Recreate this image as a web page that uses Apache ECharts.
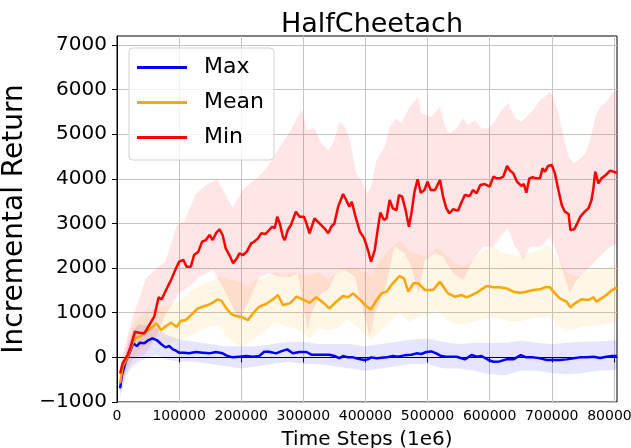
<!DOCTYPE html>
<html>
<head>
<meta charset="utf-8">
<script src="https://cdn.jsdelivr.net/npm/echarts@6/dist/echarts.min.js"></script>
<style>
  html, body { margin: 0; padding: 0; background: #fff; }
  #main { width: 631px; height: 448px; }
</style>
</head>
<body>
<div id="main"></div>
<script>
// curves: [time step, return]
const maxCurve = [[5000,-695],[8000,-396],[14000,-97],[20000,90],[26000,314],[32000,254],[37000,329],[44000,314],[51000,388],[57000,426],[64000,388],[71000,299],[78000,224],[84000,254],[90000,179],[95000,149],[100000,105],[108000,105],[116000,90],[127000,120],[138000,105],[149000,90],[159000,120],[170000,90],[178000,30],[186000,0],[197000,15],[208000,30],[219000,15],[229000,30],[237000,127],[245000,127],[256000,90],[264000,134],[274000,179],[283000,90],[294000,120],[305000,120],[313000,60],[323000,60],[334000,60],[342000,60],[350000,30],[358000,-15],[364000,30],[372000,0],[380000,0],[388000,-30],[398000,-60],[404000,-45],[409000,0],[418000,-22],[426000,-7],[434000,0],[444000,30],[452000,15],[463000,45],[474000,60],[482000,90],[490000,75],[498000,120],[506000,134],[514000,90],[522000,30],[530000,15],[536000,15],[547000,15],[560000,-45],[571000,52],[579000,15],[587000,30],[598000,-60],[606000,-97],[616000,-90],[627000,-45],[638000,-45],[650000,52],[659000,0],[670000,0],[681000,-22],[692000,-60],[702000,-60],[713000,-60],[724000,-45],[735000,-22],[745000,0],[756000,0],[767000,15],[778000,-15],[788000,15],[797000,30],[805000,30]];

const meanCurve = [[5000,-583],[9000,-209],[17000,15],[25000,314],[30000,426],[38000,478],[46000,575],[55000,650],[63000,762],[71000,613],[79000,702],[87000,777],[96000,687],[103000,822],[111000,837],[122000,986],[130000,1098],[138000,1135],[146000,1173],[154000,1225],[162000,1300],[168000,1270],[176000,1098],[184000,971],[192000,926],[202000,896],[211000,837],[219000,986],[229000,1135],[240000,1195],[251000,1300],[259000,1397],[267000,1173],[278000,1210],[289000,1360],[299000,1300],[310000,1225],[321000,1345],[332000,1225],[342000,1098],[353000,1247],[364000,1374],[372000,1345],[380000,1434],[391000,1300],[401000,1150],[409000,1076],[418000,1285],[426000,1434],[434000,1472],[444000,1658],[455000,1823],[462000,1770],[469000,1472],[477000,1658],[485000,1658],[496000,1509],[509000,1509],[520000,1696],[527000,1550],[533000,1434],[544000,1360],[555000,1397],[563000,1345],[571000,1397],[579000,1449],[587000,1524],[595000,1599],[606000,1569],[616000,1569],[627000,1546],[638000,1472],[649000,1449],[659000,1472],[670000,1509],[681000,1524],[689000,1569],[697000,1569],[705000,1434],[713000,1322],[724000,1247],[730000,1120],[737000,1210],[748000,1300],[759000,1285],[767000,1345],[772000,1247],[780000,1322],[788000,1397],[797000,1509],[805000,1560]];

const minCurve = [[5000,-360],[9000,-134],[17000,52],[22000,240],[29000,575],[36000,553],[44000,538],[52000,725],[60000,911],[67000,1345],[72000,1300],[79000,1509],[87000,1733],[95000,1994],[100000,2144],[107000,2181],[112000,2032],[119000,2032],[124000,2293],[131000,2368],[137000,2592],[143000,2629],[149000,2741],[154000,2629],[160000,2794],[165000,2868],[170000,2741],[175000,2443],[181000,2293],[187000,2107],[193000,2219],[197000,2331],[203000,2293],[209000,2368],[216000,2555],[221000,2592],[227000,2667],[232000,2779],[239000,2764],[245000,2853],[250000,2928],[254000,2891],[258000,3152],[262000,3003],[267000,2704],[270000,2629],[275000,2853],[280000,2966],[288000,3264],[294000,3152],[301000,3152],[305000,3003],[310000,2779],[318000,3115],[326000,3003],[334000,2891],[340000,2779],[345000,2928],[350000,3003],[356000,3376],[364000,3660],[369000,3526],[374000,3376],[378000,3488],[384000,3152],[391000,2816],[398000,2667],[404000,2405],[409000,2144],[415000,2405],[420000,2891],[424000,3242],[430000,3078],[434000,3115],[439000,3526],[444000,3339],[450000,3302],[454000,3638],[459000,3600],[464000,3339],[470000,2928],[474000,3227],[479000,3713],[484000,3989],[489000,3690],[495000,3750],[500000,3937],[505000,3750],[512000,3750],[520000,3974],[525000,3600],[530000,3350],[535000,3227],[541000,3317],[549000,3287],[555000,3488],[560000,3638],[568000,3615],[573000,3750],[579000,3675],[585000,3862],[592000,3884],[600000,3824],[606000,4049],[611000,4011],[616000,4011],[622000,4049],[628000,4288],[632000,4198],[638000,4123],[644000,3937],[651000,3840],[655000,3884],[659000,3690],[664000,4011],[669000,4034],[675000,4011],[681000,4011],[685000,4235],[689000,4161],[694000,4288],[700000,4310],[705000,4123],[710000,3787],[716000,3414],[721000,3264],[727000,3212],[730000,2853],[736000,2868],[741000,3003],[746000,3152],[753000,3264],[759000,3339],[764000,3526],[767000,3787],[770000,4161],[775000,3899],[780000,4011],[787000,4086],[794000,4183],[799000,4161],[805000,4130]];

// shaded spread around each curve: upper and lower edges
const maxUpper = [[5000,-500],[15000,150],[25000,600],[35000,750],[50000,700],[65000,650],[80000,500],[100000,400],[125000,350],[150000,300],[175000,250],[200000,250],[225000,250],[250000,300],[275000,350],[300000,350],[325000,300],[350000,300],[375000,300],[400000,250],[425000,300],[450000,350],[475000,400],[500000,420],[525000,350],[550000,300],[575000,330],[600000,320],[625000,330],[650000,380],[675000,330],[700000,300],[725000,330],[750000,350],[775000,360],[805000,380]];
const maxLower = [[5000,-900],[15000,-400],[25000,-200],[35000,-100],[50000,0],[65000,50],[80000,-50],[100000,-100],[125000,-100],[150000,-150],[175000,-200],[200000,-250],[225000,-200],[250000,-150],[275000,-100],[300000,-150],[325000,-150],[350000,-200],[375000,-250],[400000,-300],[425000,-250],[450000,-200],[475000,-150],[500000,-150],[525000,-250],[550000,-250],[575000,-300],[600000,-380],[625000,-400],[650000,-300],[675000,-300],[700000,-350],[725000,-380],[750000,-350],[775000,-300],[805000,-280]];

const meanUpper = [[5000,-300],[15000,200],[25000,700],[35000,900],[45000,1000],[60000,1100],[75000,1150],[90000,1200],[105000,1300],[120000,1500],[135000,1650],[150000,1700],[165000,1800],[180000,1750],[195000,1700],[210000,1600],[225000,1750],[240000,1800],[255000,1900],[270000,1850],[285000,1900],[300000,1850],[310000,1850],[325000,1900],[340000,1750],[355000,1900],[370000,2000],[385000,2000],[400000,1900],[410000,1850],[425000,2200],[440000,2450],[455000,2600],[470000,2400],[485000,2300],[500000,2250],[515000,2450],[530000,2300],[545000,2100],[560000,2050],[575000,2200],[590000,2400],[605000,2500],[620000,2350],[635000,2300],[650000,2250],[665000,2350],[680000,2400],[695000,2500],[710000,2200],[725000,1900],[740000,1800],[755000,1900],[770000,2000],[785000,2000],[805000,2100]];
const meanLower = [[5000,-800],[15000,-300],[25000,0],[35000,150],[45000,250],[60000,350],[75000,300],[90000,350],[105000,400],[120000,500],[135000,600],[150000,700],[165000,700],[180000,400],[195000,250],[210000,300],[225000,450],[240000,600],[255000,800],[270000,700],[285000,650],[300000,550],[310000,400],[325000,650],[340000,600],[355000,650],[370000,850],[385000,700],[400000,500],[410000,400],[425000,600],[440000,800],[455000,1000],[470000,800],[485000,900],[500000,950],[515000,1050],[530000,850],[545000,750],[560000,750],[575000,800],[590000,850],[605000,900],[620000,850],[635000,800],[650000,800],[665000,850],[680000,900],[695000,900],[710000,700],[725000,600],[740000,650],[755000,700],[770000,700],[785000,750],[805000,800]];

const minUpper = [[5000,-100],[15000,350],[25000,900],[35000,1300],[46000,1750],[60000,1950],[78000,2150],[96000,2950],[109000,3060],[126000,3650],[142000,3850],[161000,3990],[186000,3350],[203000,3760],[225000,4020],[241000,4240],[259000,4646],[280000,5094],[294000,5468],[299000,5543],[305000,5094],[318000,5132],[329000,4796],[340000,4646],[348000,4796],[358000,5281],[367000,5169],[375000,4870],[385000,4123],[393000,3974],[403000,3675],[409000,3824],[418000,4422],[431000,4721],[439000,5169],[450000,5356],[458000,5244],[471000,5617],[485000,5841],[490000,5468],[506000,5393],[520000,5617],[530000,5094],[536000,5020],[547000,5132],[557000,5356],[565000,5206],[576000,5318],[587000,5132],[598000,5132],[608000,5281],[619000,5543],[630000,5692],[641000,5356],[651000,5281],[662000,5431],[670000,5543],[681000,5767],[689000,5841],[697000,5954],[702000,5841],[711000,5468],[719000,4945],[727000,4497],[735000,4347],[743000,4422],[754000,4572],[762000,4870],[770000,5393],[778000,5617],[788000,5729],[797000,5916],[805000,6000]];
const minLower = [[5000,-600],[25000,-60],[47000,90],[63000,463],[79000,986],[100000,1434],[116000,1584],[133000,1808],[154000,1957],[170000,1584],[181000,1285],[197000,837],[213000,1285],[229000,1808],[245000,1882],[261000,1808],[280000,1808],[291000,1882],[307000,612],[313000,986],[329000,1434],[340000,1509],[353000,1882],[367000,1957],[383000,1808],[399000,911],[407000,463],[415000,986],[431000,1509],[447000,2480],[463000,2331],[474000,2032],[485000,1434],[496000,2181],[512000,2331],[525000,2256],[541000,1882],[557000,1733],[573000,2181],[590000,2480],[606000,2480],[622000,2779],[630000,2891],[638000,2555],[654000,2181],[665000,2480],[681000,2480],[697000,2704],[708000,2331],[719000,1882],[729000,1434],[740000,1733],[762000,2032],[772000,2181],[794000,2480],[805000,2550]];

const xTicks = [0, 100000, 200000, 300000, 400000, 500000, 600000, 700000, 800000];
const yTicks = [-1000, 0, 1000, 2000, 3000, 4000, 5000, 6000, 7000];

const FONT = 'DejaVu Sans';

// filled polygon between two edges, drawn once through the axis scales
function band(name, upper, lower, color) {
    const pts = upper.concat(lower.slice().reverse());
    return {
        name: name,
        type: 'custom',
        silent: true,
        z: 1,
        data: pts,
        encode: {x: 0, y: 1},
        renderItem: function (params, api) {
            if (params.dataIndex !== 0) return null;
            return {
                type: 'polygon',
                shape: {points: pts.map(function (p) { return api.coord(p); })},
                style: {fill: color}
            };
        }
    };
}

function curve(name, data, color, z) {
    return {
        name: name,
        type: 'line',
        data: data,
        showSymbol: false,
        symbol: 'none',
        z: z,
        color: color,
        lineStyle: {color: color, width: 2.5}
    };
}

const chart = echarts.init(document.getElementById('main'), null, {renderer: 'canvas'});
chart.setOption({
    animation: false,
    backgroundColor: '#fff',
    textStyle: {fontFamily: FONT},
    title: {
        text: 'HalfCheetach',
        left: 367,
        textAlign: 'center',
        top: 6,
        textStyle: {fontFamily: FONT, fontSize: 27, fontWeight: 'normal', color: '#000'}
    },
    legend: {
        data: ['Max', 'Mean', 'Min'],
        orient: 'vertical',
        left: 129,
        top: 48,
        padding: [6, 10, 9, 8],
        itemGap: 8,
        itemWidth: 50,
        itemHeight: 3,
        icon: 'rect',
        backgroundColor: 'rgba(255,255,255,0.8)',
        borderColor: '#d0d0d0',
        borderWidth: 1,
        borderRadius: 4,
        textStyle: {fontFamily: FONT, fontSize: 22, color: '#000', lineHeight: 27, padding: [0, 0, 0, 12]}
    },
    grid: {
        left: 117, right: 14, top: 36, bottom: 46,
        outerBoundsMode: 'none',
        containLabel: false,
        show: true, borderColor: '#000', borderWidth: 1, backgroundColor: 'transparent'
    },
    xAxis: {
        type: 'value',
        min: 0,
        max: 805000,
        interval: 100000,
        name: 'Time Steps (1e6)',
        nameLocation: 'middle',
        nameGap: 28,
        nameTextStyle: {fontFamily: FONT, fontSize: 20, color: '#000'},
        axisLine: {lineStyle: {color: '#000', width: 1}},
        axisTick: {show: true, inside: false, length: 5, lineStyle: {color: '#000'}, customValues: xTicks},
        axisLabel: {
            fontFamily: FONT, fontSize: 14, color: '#000', margin: 7, customValues: xTicks,
            formatter: function (v) { return String(v); }
        },
        splitLine: {show: true, lineStyle: {color: '#c4c4c4', width: 1}}
    },
    yAxis: {
        type: 'value',
        min: -1000,
        max: 7200,
        interval: 1000,
        name: 'Incremental Return',
        nameLocation: 'middle',
        nameGap: 78,
        nameTextStyle: {fontFamily: FONT, fontSize: 28, color: '#000'},
        axisLine: {show: true, lineStyle: {color: '#000', width: 1}},
        axisTick: {show: true, inside: false, length: 5, lineStyle: {color: '#000'}, customValues: yTicks},
        axisLabel: {
            fontFamily: FONT, fontSize: 20, color: '#000', margin: 10, customValues: yTicks,
            formatter: function (v) { return v < 0 ? '\u2212' + Math.abs(v) : String(v); }
        },
        splitLine: {show: true, lineStyle: {color: '#c4c4c4', width: 1}}
    },
    series: [
        band('maxBand', maxUpper, maxLower, 'rgba(0,0,255,0.1)'),
        band('meanBand', meanUpper, meanLower, 'rgba(255,165,0,0.1)'),
        band('minBand', minUpper, minLower, 'rgba(255,0,0,0.1)'),
        curve('Max', maxCurve, '#0000ff', 3),
        curve('Mean', meanCurve, '#ffa500', 4),
        curve('Min', minCurve, '#ff0000', 5)
    ]
});
</script>
</body>
</html>
